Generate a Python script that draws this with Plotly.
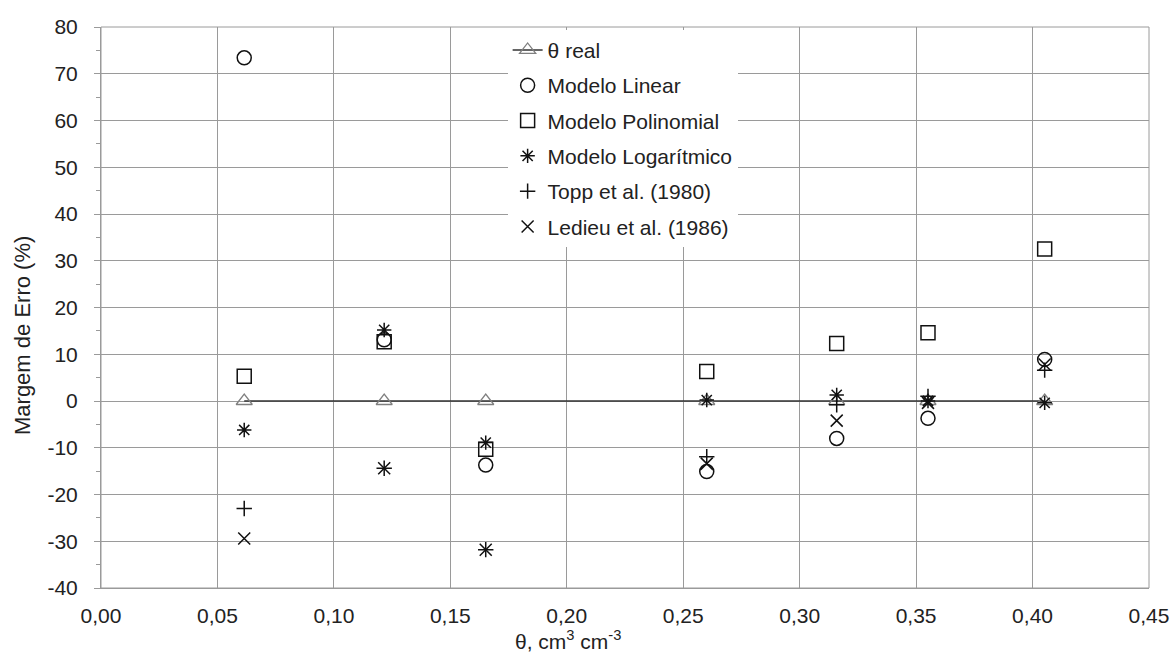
import plotly.graph_objects as go

theta = [0.0615, 0.1216, 0.1652, 0.2601, 0.3159, 0.3551, 0.4052]
theta_real = [0, 0, 0, 0, 0, 0, 0]
linear = [73.4, 13.1, -13.7, -15.1, -8.0, -3.7, 8.9]
polinomial = [5.3, 12.7, -10.3, 6.3, 12.3, 14.6, 32.5]
logaritmico = [-6.2, 15.2, -8.9, 0.2, 1.3, 0.0, -0.4]
topp = [-23.0, -14.4, -31.8, -11.9, -0.8, 1.0, 6.6]
ledieu = [-29.4, -14.4, -31.8, -13.4, -4.2, -0.4, 7.8]

yticks = list(range(-40, 81, 10))
ytick_text = [str(v) for v in yticks]
xticks = [0.00, 0.05, 0.10, 0.15, 0.20, 0.25, 0.30, 0.35, 0.40, 0.45]
xtick_text = ["0,00", "0,05", "0,10", "0,15", "0,20", "0,25", "0,30", "0,35", "0,40", "0,45"]

FONT = "Liberation Sans, Arial, sans-serif"
TXT = "#222222"
GRID = "#9a9a9a"
fig = go.Figure()

fig.add_trace(go.Scatter(
    x=theta, y=theta_real, mode="lines+markers", name="θ real",
    line=dict(color="#333333", width=1.5),
    marker=dict(symbol="triangle-up-open", size=14, color="#808080",
                line=dict(width=1.3, color="#808080")),
    legendgroup="a"))
series = [
    ("Modelo Linear", linear, "circle-open", 14),
    ("Modelo Polinomial", polinomial, "square-open", 14),
    ("Modelo Logarítmico", logaritmico, "asterisk-open", 12),
    ("Topp et al. (1980)", topp, "cross-thin-open", 11),
    ("Ledieu et al. (1986)", ledieu, "x-thin-open", 12),
]
for i, (name, vals, sym, sz) in enumerate(series):
    fig.add_trace(go.Scatter(
        x=theta, y=vals, mode="markers", name=name,
        marker=dict(symbol=sym, size=sz, color="#111111",
                    line=dict(width=1.5, color="#111111")),
        legendgroup="g%d" % i))

fig.update_layout(
    width=1173, height=657,
    margin=dict(l=101, r=24, t=27, b=69),
    paper_bgcolor="white", plot_bgcolor="white",
    font=dict(family=FONT, size=21, color=TXT),
    showlegend=True,
    legend=dict(x=0.388, y=0.995, xanchor="left", yanchor="top",
                bgcolor="white", borderwidth=0,
                font=dict(family=FONT, size=21, color=TXT),
                traceorder="grouped", tracegroupgap=5, itemwidth=30),
    xaxis=dict(range=[0, 0.45], tickvals=xticks, ticktext=xtick_text,
               showgrid=True, gridcolor=GRID, gridwidth=1,
               showline=True, linecolor=GRID, linewidth=1, automargin=False,
               zeroline=False, ticks="", ticklen=0, ticklabelstandoff=9,
               tickfont=dict(size=21)),
    yaxis=dict(range=[-40, 80], tickvals=yticks, ticktext=ytick_text,
               showgrid=True, gridcolor=GRID, gridwidth=1,
               showline=True, linecolor=GRID, linewidth=1, automargin=False,
               zeroline=False, ticks="outside", ticklen=6, tickcolor=GRID,
               ticklabelstandoff=12,
               minor=dict(dtick=5, ticks="outside", ticklen=4,
                          tickcolor=GRID, showgrid=False),
               tickfont=dict(size=21)),
)
fig.add_annotation(text="θ, cm<sup>3</sup> cm<sup>-3</sup>", xref="paper", yref="paper",
                   x=(568 - 101) / 1048, y=-(640 - 588) / 561, xanchor="center",
                   yanchor="middle", showarrow=False, font=dict(size=21, color=TXT))
fig.add_annotation(text="Margem de Erro (%)", xref="paper", yref="paper",
                   x=-(101 - 22) / 1048, y=(588 - 336) / 561, xanchor="center",
                   yanchor="middle", textangle=-90, showarrow=False,
                   font=dict(size=22, color=TXT))
fig.add_shape(type="rect", xref="paper", yref="paper", x0=0, x1=1, y0=0, y1=1,
              line=dict(color=GRID, width=1), layer="below")

fig.write_html("out.html")
